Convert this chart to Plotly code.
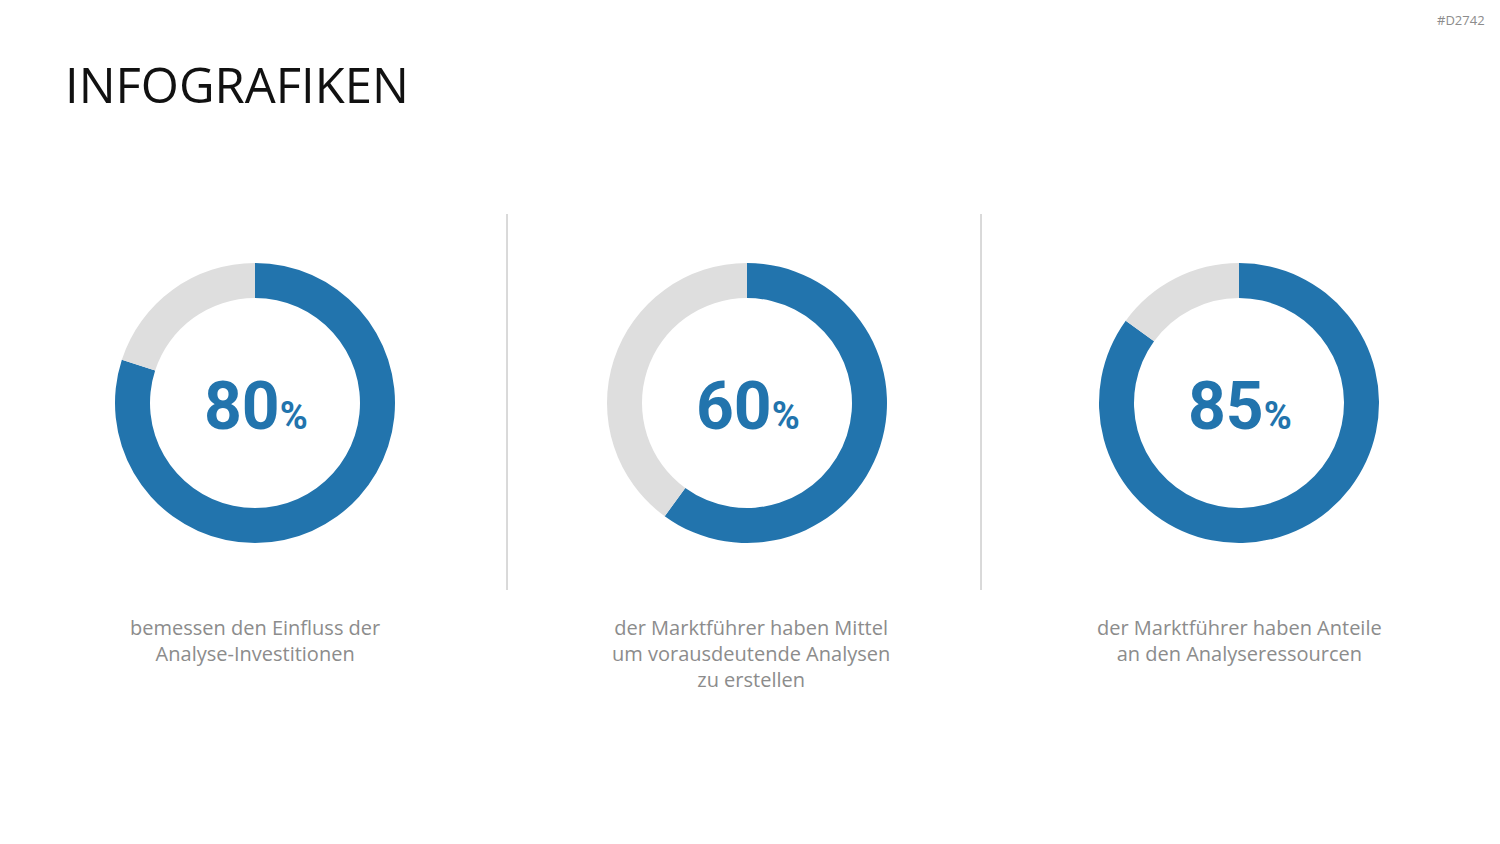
import plotly.graph_objects as go

values = [80, 60, 85]
labels_pct = ["80", "60", "85"]
captions = [
    "bemessen den Einfluss der<br>Analyse-Investitionen",
    "der Marktführer haben Mittel<br>um vorausdeutende Analysen<br>zu erstellen",
    "der Marktführer haben Anteile<br>an den Analyseressourcen",
]
title_text = "INFOGRAFIKEN"
code_text = "#D2742"

W, H = 1500, 844
centers_x = [255, 747, 1239]
cy = 403
R = 140
blue = "#2274AD"
gray = "#DEDEDE"

fig = go.Figure()
for i, v in enumerate(values):
    cx = centers_x[i]
    fig.add_trace(go.Pie(
        values=[v, 100 - v],
        labels=["a", "b"],
        marker=dict(colors=[blue, gray], line=dict(width=0)),
        hole=0.75,
        sort=False,
        direction="clockwise",
        rotation=0,
        textinfo="none",
        hoverinfo="skip",
        showlegend=False,
        domain=dict(x=[(cx - R) / W, (cx + R) / W], y=[1 - (cy + R) / H, 1 - (cy - R) / H]),
    ))
    fig.add_annotation(
        x=(cx + 1) / W, y=1 - 406 / H, xref="paper", yref="paper",
        text=f"<b>{labels_pct[i]}</b><span style='font-size:38px'><b>%</b></span>",
        showarrow=False, xanchor="center", yanchor="middle",
        font=dict(family="Roboto, sans-serif", size=66, color=blue),
    )
    fig.add_annotation(
        x=(cx + (4 if i == 1 else 0)) / W, y=1 - 612 / H, xref="paper", yref="paper",
        text=captions[i], showarrow=False, xanchor="center", yanchor="top", align="center",
        font=dict(family="Open Sans, sans-serif", size=20, color="#8C8C8C"),
    )

for lx in [507, 981]:
    fig.add_shape(type="line", xref="paper", yref="paper",
                  x0=lx / W, x1=lx / W, y0=1 - 214 / H, y1=1 - 590 / H,
                  line=dict(color="#B4B4B4", width=1))

fig.add_annotation(x=63 / W, y=1 - 84 / H, xref="paper", yref="paper", text=title_text,
                   showarrow=False, xanchor="left", yanchor="middle",
                   font=dict(family="Open Sans, sans-serif", size=49, color="#111111"))
fig.add_annotation(x=1487 / W, y=1 - 20 / H, xref="paper", yref="paper", text=code_text,
                   showarrow=False, xanchor="right", yanchor="middle",
                   font=dict(family="Open Sans, sans-serif", size=13, color="#8C8C8C"))

fig.update_layout(width=W, height=H, margin=dict(l=0, r=0, t=0, b=0),
                  paper_bgcolor="white", plot_bgcolor="white")
fig.write_html("out.html")
